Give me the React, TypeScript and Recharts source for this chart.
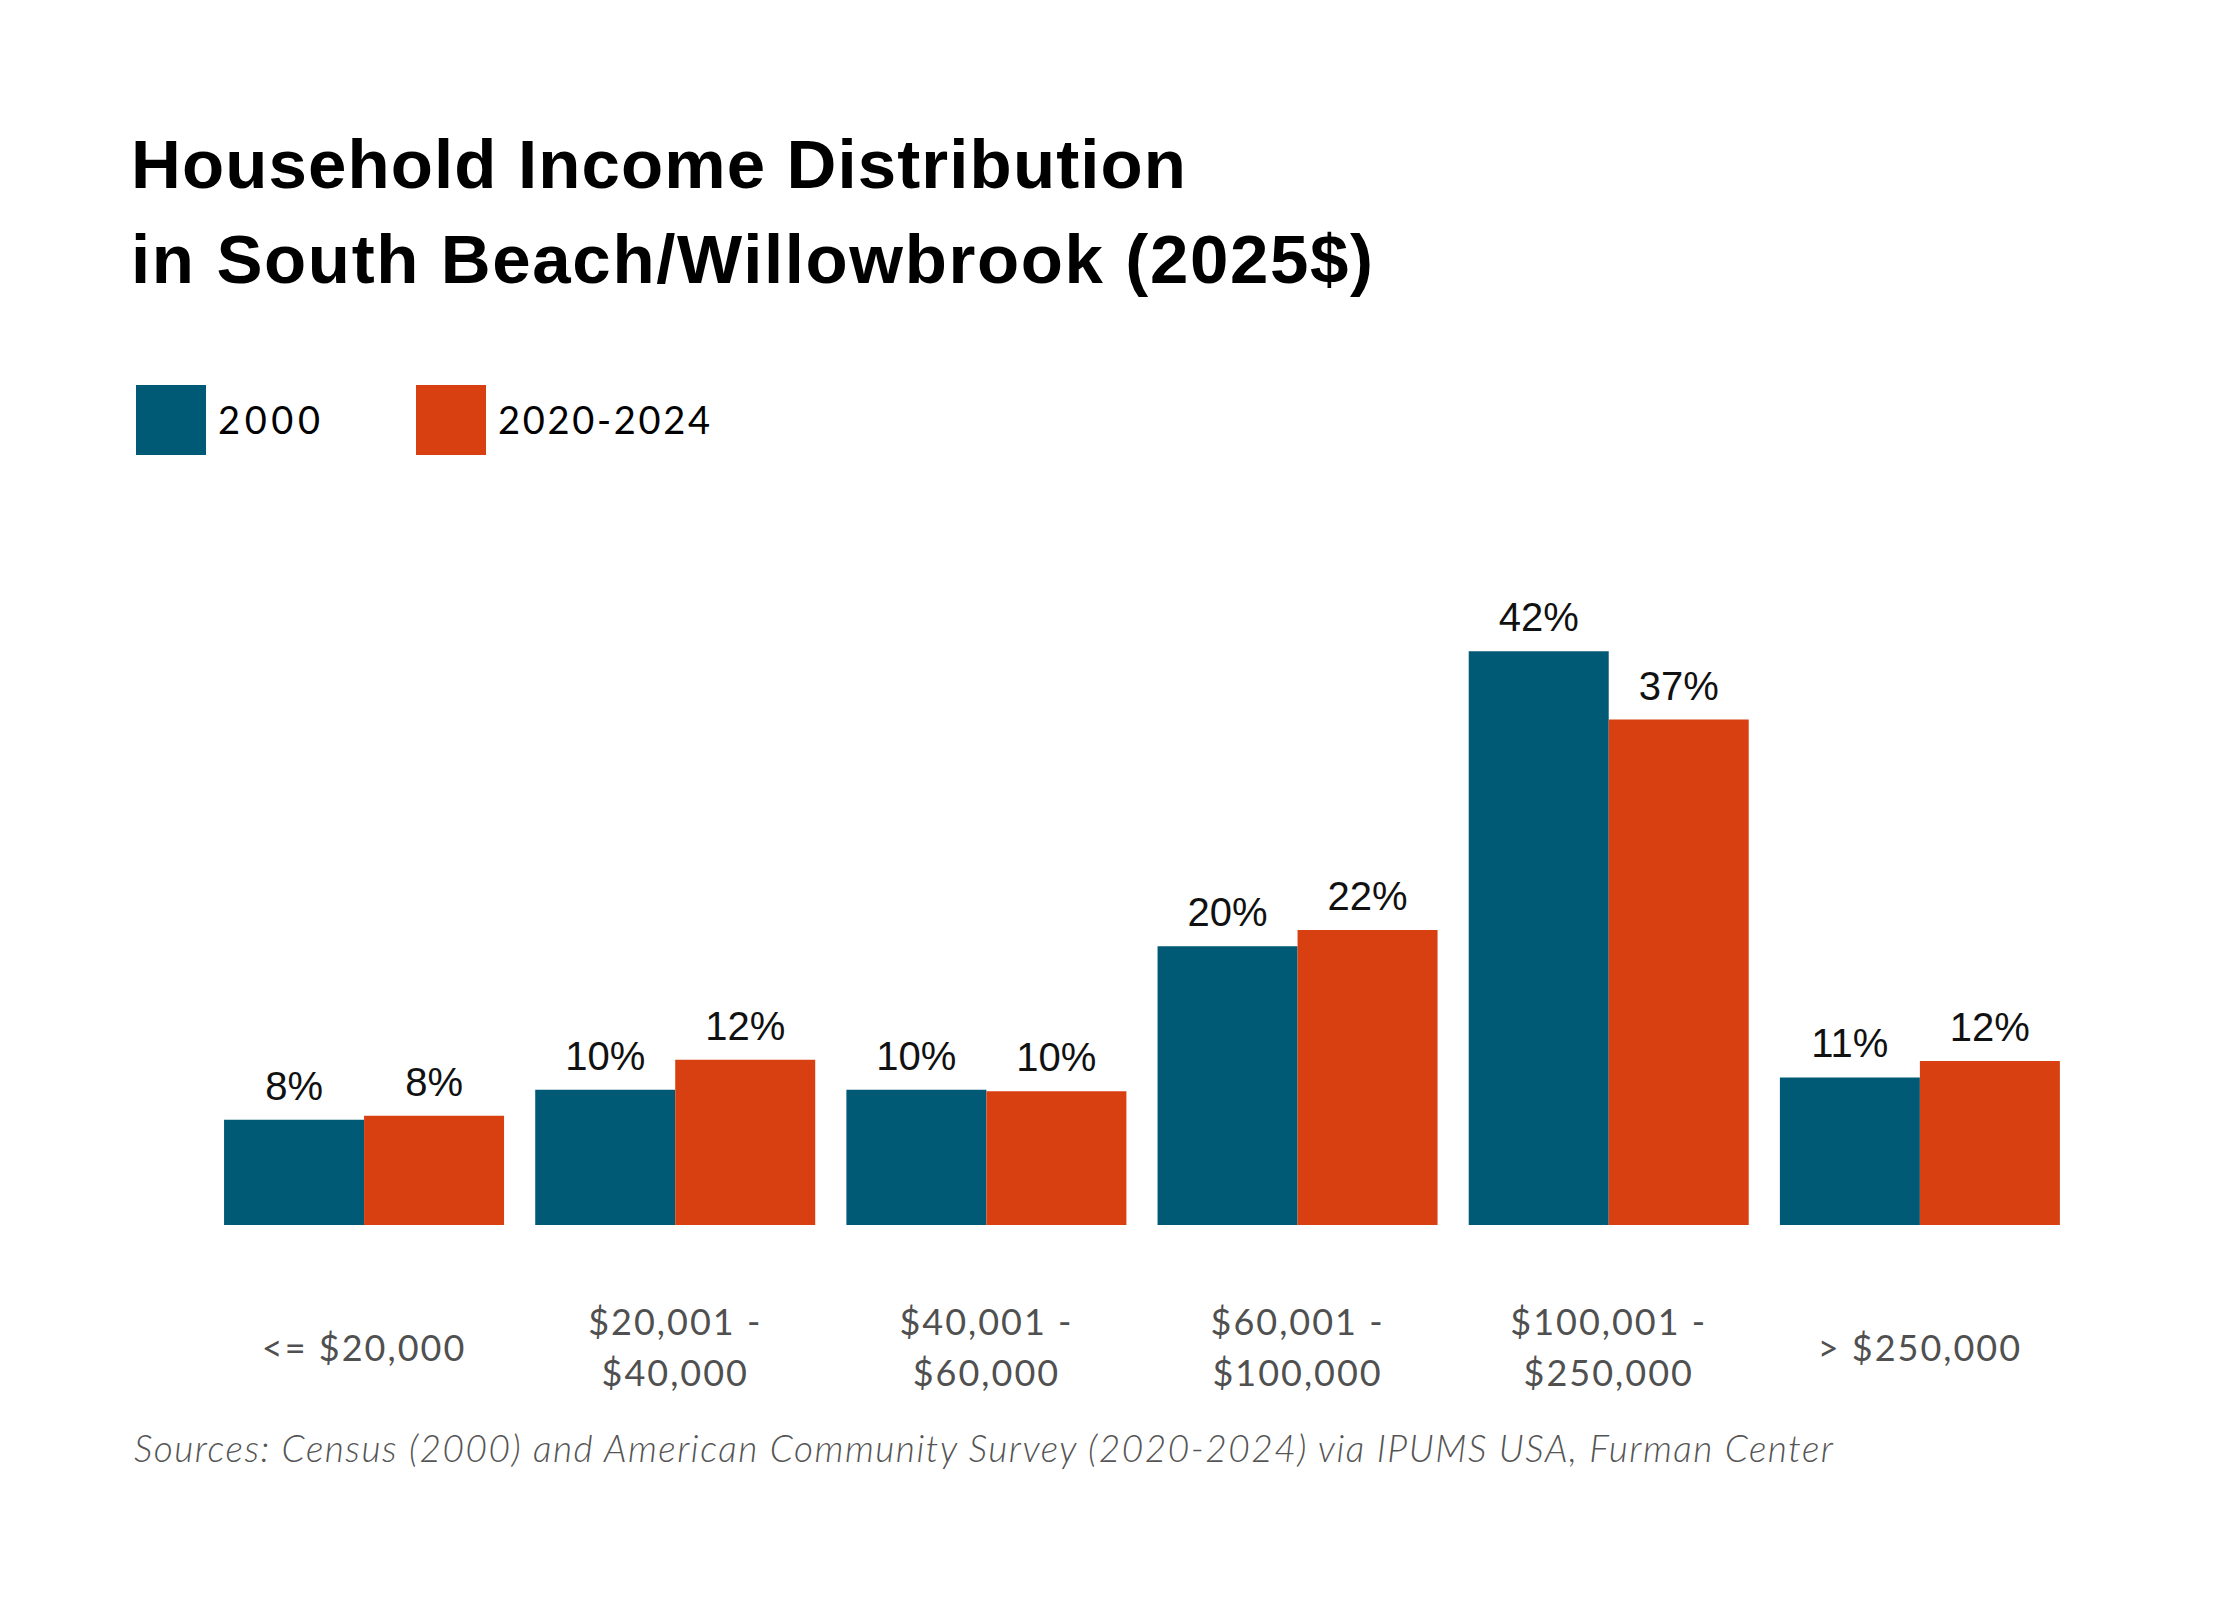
import { BarChart, Bar, XAxis, YAxis, LabelList } from 'recharts'

// income brackets, two label lines where the reference wraps
const brackets = ['<= $20,000', '$20,001 - $40,000', '$40,001 - $60,000', '$60,001 - $100,000', '$100,001 - $250,000', '> $250,000']
const tickLines: string[][] = [
  ['<= $20,000'],
  ['$20,001 -', '$40,000'],
  ['$40,001 -', '$60,000'],
  ['$60,001 -', '$100,000'],
  ['$100,001 -', '$250,000'],
  ['> $250,000'],
]

// share of households (%)
const share2000 = [7.7, 9.9, 9.9, 20.4, 42.0, 10.8]
const share2024 = [8.0, 12.1, 9.8, 21.6, 37.0, 12.0]

const seriesNames = ['2000', '2020-2024']
const BLUE = '#005a75'
const ORANGE = '#d84012'

const data = brackets.map((b, i) => ({
  bracket: b,
  y2000: share2000[i],
  y2024: share2024[i],
}))

const labelFont = '"Liberation Sans", Arial, sans-serif'
const textFont = 'Lato, "Open Sans", sans-serif'

const BracketTick = (props: any) => {
  const { x, y, index } = props
  const lines = tickLines[index] || []
  return (
    <g>
      {lines.length === 1 ? (
        <text x={x} y={y + 136} textAnchor="middle" fill="#505050" fontSize={36} fontFamily={textFont} letterSpacing={2}>
          {lines[0]}
        </text>
      ) : (
        lines.map((line, i) => (
          <text key={i} x={x} y={y + 110 + i * 51} textAnchor="middle" fill="#505050" fontSize={36} fontFamily={textFont} letterSpacing={2}>
            {line}
          </text>
        ))
      )}
    </g>
  )
}

export default function App() {
  return (
    <div style={{ position: 'relative', width: 2240, height: 1600, margin: -8, background: '#fff' }}>
      <BarChart
        width={2240}
        height={1600}
        data={data}
        margin={{ top: 542, right: 164.5, bottom: 235, left: 208.5 }}
        barCategoryGap="5%"
        barGap={0}
      >
        <XAxis
          dataKey="bracket"
          axisLine={false}
          tickLine={false}
          tickSize={0}
          tickMargin={0}
          height={140}
          interval={0}
          tick={<BracketTick />}
        />
        <YAxis hide domain={[0, 50]} />
        <Bar dataKey="y2000" name={seriesNames[0]} fill={BLUE} isAnimationActive={false}>
          <LabelList
            dataKey="y2000"
            position="top"
            offset={20}
            fill="#111"
            fontSize={40}
            fontFamily={labelFont}
            formatter={(v: any) => `${Math.round(Number(v))}%`}
          />
        </Bar>
        <Bar dataKey="y2024" name={seriesNames[1]} fill={ORANGE} isAnimationActive={false}>
          <LabelList
            dataKey="y2024"
            position="top"
            offset={20}
            fill="#111"
            fontSize={40}
            fontFamily={labelFont}
            formatter={(v: any) => `${Math.round(Number(v))}%`}
          />
        </Bar>
      </BarChart>

      <svg width={2240} height={1600} style={{ position: 'absolute', left: 0, top: 0, pointerEvents: 'none' }}>
        {/* title */}
        <text x={131} y={188} fontFamily={labelFont} fontWeight={700} fontSize={69} fill="#000" textLength={1055} lengthAdjust="spacing">
          Household Income Distribution
        </text>
        <text x={131} y={283} fontFamily={labelFont} fontWeight={700} fontSize={69} fill="#000" textLength={1242} lengthAdjust="spacing">
          in South Beach/Willowbrook (2025$)
        </text>

        {/* legend */}
        <rect x={136} y={385} width={70} height={70} fill={BLUE} />
        <text x={218} y={434} fontFamily={textFont} fontSize={38} fill="#000" textLength={102} lengthAdjust="spacing">
          {seriesNames[0]}
        </text>
        <rect x={416} y={385} width={70} height={70} fill={ORANGE} />
        <text x={498} y={434} fontFamily={textFont} fontSize={38} fill="#000" textLength={212} lengthAdjust="spacing">
          {seriesNames[1]}
        </text>

        {/* source */}
        <text x={134} y={1462} fontFamily={textFont} fontStyle="italic" fontWeight={300} fontSize={37} fill="#555" textLength={1699} lengthAdjust="spacing">
          Sources: Census (2000) and American Community Survey (2020-2024) via IPUMS USA, Furman Center
        </text>
      </svg>
    </div>
  )
}
